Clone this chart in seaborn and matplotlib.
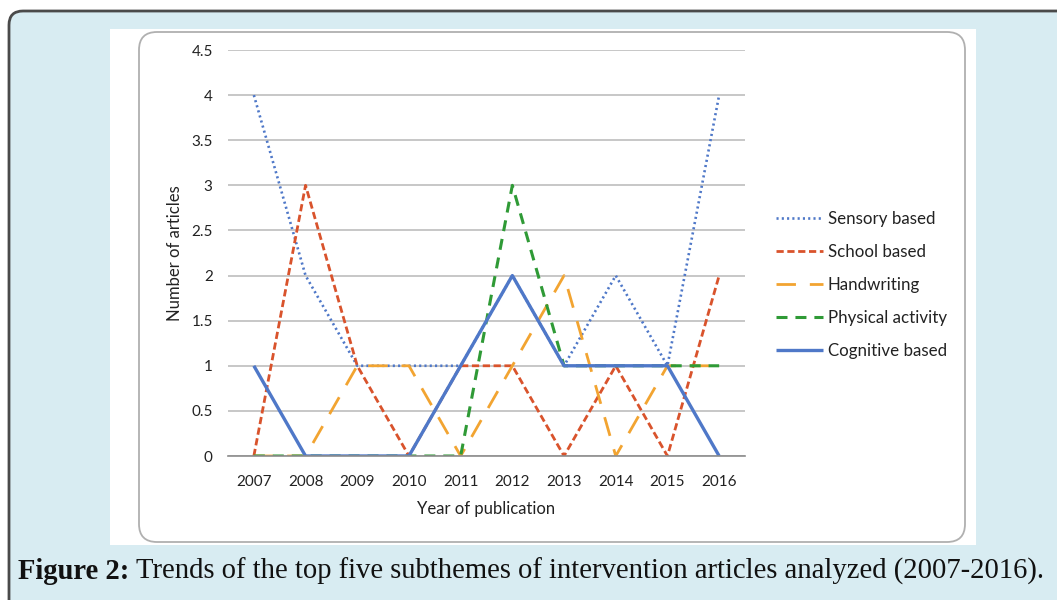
import numpy as np
import pandas as pd
import seaborn as sns
import matplotlib.pyplot as plt
from matplotlib.patches import FancyBboxPatch, Rectangle

# values
years = [2007, 2008, 2009, 2010, 2011, 2012, 2013, 2014, 2015, 2016]
sensory = [4, 2, 1, 1, 1, 2, 1, 2, 1, 4]
school = [0, 3, 1, 0, 1, 1, 0, 1, 0, 2]
handwriting = [0, 0, 1, 1, 0, 1, 2, 0, 1, 1]
physical = [0, 0, 0, 0, 0, 3, 1, 1, 1, 1]
cognitive = [1, 0, 0, 0, 1, 2, 1, 1, 1, 0]

series_names = ["Sensory based", "School based", "Handwriting",
                "Physical activity", "Cognitive based"]
y_ticks = [0, 0.5, 1, 1.5, 2, 2.5, 3, 3.5, 4, 4.5]
y_labels = ["0", "0.5", "1", "1.5", "2", "2.5", "3", "3.5", "4", "4.5"]

df = pd.DataFrame({"year": years, "Sensory based": sensory, "School based": school,
                   "Handwriting": handwriting, "Physical activity": physical,
                   "Cognitive based": cognitive})
long_df = df.melt(id_vars="year", var_name="theme", value_name="count")

styles = {
    "Sensory based": dict(color="#4f78c8", lw=1.9, dashes=(0.8, 1.2)),
    "School based": dict(color="#d9532c", lw=2.0, dashes=(2.6, 1.3)),
    "Handwriting": dict(color="#f2a431", lw=2.0, dashes=(7, 5)),
    "Physical activity": dict(color="#2f9a36", lw=2.2, dashes=(3.6, 2.6)),
    "Cognitive based": dict(color="#4f78c8", lw=2.4, dashes=None),
}

sns.set_style("white")
plt.rcParams["font.family"] = ["Lato", "DejaVu Sans"]

fig = plt.figure(figsize=(10.57, 6), dpi=100)
W, H = 1057, 600

def px(x, y, w, h):
    return (x / W, 1 - (y + h) / H, w / W, h / H)

# page background and frames
bg = fig.add_axes([0, 0, 1, 1])
bg.set_xlim(0, W)
bg.set_ylim(H, 0)
bg.axis("off")
bg.add_patch(FancyBboxPatch((9, 11), W + 40, H + 40,
                            boxstyle="round,pad=0,rounding_size=14",
                            facecolor="#d8ecf2", edgecolor="#4a4a4a", lw=2))
bg.add_patch(Rectangle((110, 29), 866, 516, facecolor="white", edgecolor="none"))
bg.add_patch(FancyBboxPatch((139, 32), 826, 510,
                            boxstyle="round,pad=0,rounding_size=18",
                            facecolor="white", edgecolor="#b0b0b0", lw=1.3))

ax = fig.add_axes(px(228, 50, 517, 406))
for name in series_names:
    st = styles[name]
    sub = long_df[long_df["theme"] == name]
    sns.lineplot(data=sub, x="year", y="count", ax=ax, color=st["color"],
                 linewidth=st["lw"], label=name)
    l = ax.lines[-1]
    if st["dashes"] is not None:
        l.set_dashes(st["dashes"])
    l.set_solid_capstyle("butt")

ax.set_xlim(2006.5, 2016.5)
ax.set_ylim(0, 4.5)
ax.set_facecolor("none")
ax.set_yticks(y_ticks)
ax.set_yticklabels(y_labels)
ax.set_xticks(years)
ax.set_xticklabels([str(y) for y in years])
ax.set_xticks(np.arange(2006.5, 2017, 1.0), minor=True)
ax.grid(axis="y", color="#bdbdbd", lw=1.2)
ax.grid(axis="x", visible=False)
for s in ["top", "right", "left"]:
    ax.spines[s].set_visible(False)
ax.spines["bottom"].set_color("#8c8c8c")
ax.spines["bottom"].set_linewidth(1.2)
ax.set_axisbelow(True)
ax.tick_params(axis="x", which="both", direction="inout", length=10, width=1,
               color="#8c8c8c", labelsize=11, pad=9, labelcolor="#222222")
ax.tick_params(axis="y", length=0, labelsize=11, pad=11, labelcolor="#222222")
ax.set_xlabel("Year of publication", fontsize=12, color="#222222", labelpad=8)
ax.set_ylabel("Number of articles", fontsize=12, color="#222222", labelpad=6)

leg = ax.legend(loc="center left", bbox_to_anchor=(1.046, 0.421), frameon=False,
                fontsize=12.2, handlelength=2.78, handletextpad=0.3,
                labelspacing=1.0, borderaxespad=0)
for t in leg.get_texts():
    t.set_color("#222222")

# caption, sized to span the same width as the original
fig.canvas.draw()
r = fig.canvas.get_renderer()
cap_font = ["Liberation Serif", "DejaVu Serif"]
cap_rest = "Trends of the top five subthemes of intervention articles analyzed (2007-2016)."
base = 16.0
t1 = fig.text(18 / W, 1 - 579 / H, "Figure 2:", fontsize=base, fontweight="bold",
              family=cap_font, va="baseline", ha="left", color="#111111")
t2 = fig.text(0, 1 - 579 / H, cap_rest, fontsize=base, family=cap_font,
              va="baseline", ha="left", color="#111111")
w_total = (t1.get_window_extent(renderer=r).width + 5
           + t2.get_window_extent(renderer=r).width)
size = base * 1027 / w_total
t1.set_fontsize(size)
t2.set_fontsize(size)
bb = t1.get_window_extent(renderer=r)
t2.set_x((bb.x1 + 5 * size / base) / W)

fig.savefig("out.png", dpi=100)
